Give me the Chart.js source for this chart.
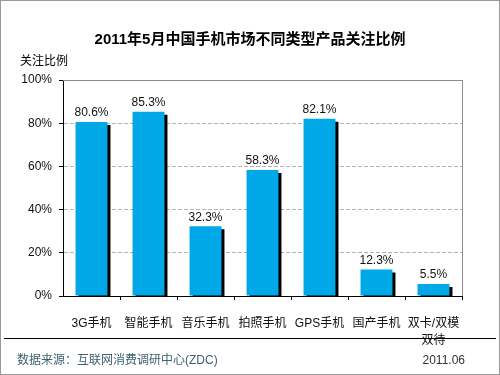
<!DOCTYPE html>
<html>
<head>
<meta charset="utf-8">
<script src="https://cdn.jsdelivr.net/npm/chart.js@4/dist/chart.umd.min.js"></script>
<style>
  html, body { margin: 0; padding: 0; background: #fff; }
  canvas { display: block; }
</style>
</head>
<body>
<canvas id="zdcChart" width="500" height="375"></canvas>
<script>
// ----- Data -----
const categories = ["3G手机", "智能手机", "音乐手机", "拍照手机", "GPS手机", "国产手机", ["双卡/双模", "双待"]];
const shares = [80.6, 85.3, 32.3, 58.3, 82.1, 12.3, 5.5];
const yTicks = [0, 20, 40, 60, 80, 100];

const TITLE = "2011年5月中国手机市场不同类型产品关注比例";
const Y_TITLE = "关注比例";
const SOURCE = "数据来源：互联网消费调研中心(ZDC)";
const DATE = "2011.06";

const FONT = '"Liberation Sans", "Noto Sans CJK SC", sans-serif';

// ----- Plugins -----
// black drop shadow on the right / bottom of each bar
const barShadow = {
  id: "barShadow",
  beforeDatasetDraw(chart) {
    const c = chart.ctx;
    c.save();
    c.shadowColor = "#000";
    c.shadowOffsetX = 3;
    c.shadowOffsetY = 3;
    c.shadowBlur = 0;
  },
  afterDatasetDraw(chart) {
    chart.ctx.restore();
  }
};

const decorations = {
  id: "decorations",
  beforeDraw(chart) {
    const c = chart.ctx;
    c.save();
    c.fillStyle = "#fff";
    c.fillRect(0, 0, chart.width, chart.height);
    c.restore();
  },
  afterDraw(chart) {
    const c = chart.ctx;
    const area = chart.chartArea;
    c.save();

    // plot frame (top + right)
    c.strokeStyle = "#8c8c8c";
    c.lineWidth = 1;
    c.beginPath();
    c.moveTo(area.left, area.top + 0.5);
    c.lineTo(area.right + 0.5, area.top + 0.5);
    c.lineTo(area.right + 0.5, area.bottom);
    c.stroke();

    // category boundary ticks under the axis
    c.strokeStyle = "#000";
    c.beginPath();
    const step = (area.right - area.left) / categories.length;
    for (let i = 1; i <= categories.length; i++) {
      const px = Math.round(area.left + i * step) + 0.5;
      c.moveTo(px, area.bottom);
      c.lineTo(px, area.bottom + 4);
    }
    c.stroke();

    // value labels
    c.fillStyle = "#111";
    c.font = "12px " + FONT;
    c.textAlign = "center";
    c.textBaseline = "middle";
    chart.getDatasetMeta(0).data.forEach((bar, i) => {
      c.fillText(shares[i].toFixed(1) + "%", bar.x, bar.y - 9);
    });

    // title
    c.font = "bold 15px " + FONT;
    c.fillStyle = "#000";
    c.fillText(TITLE, 250, 40);

    // y axis name
    c.font = "12px " + FONT;
    c.textAlign = "left";
    c.fillText(Y_TITLE, 20, 62);

    // separator line
    c.strokeStyle = "#000";
    c.beginPath();
    c.moveTo(4, 338.5);
    c.lineTo(496, 338.5);
    c.stroke();

    // footer
    c.fillStyle = "#3b6270";
    c.fillText(SOURCE, 17, 361);
    c.fillStyle = "#333";
    c.textAlign = "right";
    c.fillText(DATE, 465, 361);

    // outer frame
    c.strokeStyle = "#999";
    c.strokeRect(0.5, 0.5, chart.width - 1, chart.height - 1);
    c.restore();
  }
};

// ----- Chart -----
const ctx = document.getElementById("zdcChart").getContext("2d");
new Chart(ctx, {
  type: "bar",
  data: {
    labels: categories,
    datasets: [{
      data: shares,
      backgroundColor: "#00a8e8",
      borderWidth: 0,
      barPercentage: 0.56,
      categoryPercentage: 1
    }]
  },
  options: {
    responsive: false,
    animation: false,
    layout: { padding: { left: 0, right: 38, top: 80, bottom: 0 } },
    plugins: {
      legend: { display: false },
      tooltip: { enabled: false }
    },
    scales: {
      x: {
        grid: { display: false },
        border: { color: "#000", width: 1 },
        ticks: {
          color: "#111",
          padding: 11,
          maxRotation: 0,
          autoSkip: false,
          font: { family: FONT, size: 12, lineHeight: 1.4 }
        },
        afterFit(scale) { scale.height = 79; }
      },
      y: {
        min: 0,
        max: 100,
        afterBuildTicks(scale) { scale.ticks = yTicks.map(v => ({ value: v })); },
        grid: {
          color: c => (c.tick && (c.tick.value === 0 || c.tick.value === 100)) ? "rgba(0,0,0,0)" : "#b4b4b4",
          tickColor: "#000",
          tickLength: 4,
          drawTicks: true
        },
        border: { color: "#000", width: 1, dash: [4, 2] },
        ticks: {
          color: "#111",
          padding: 7,
          font: { family: FONT, size: 12 },
          callback: v => v + "%"
        },
        afterFit(scale) { scale.width = 63; }
      }
    }
  },
  plugins: [barShadow, decorations]
});
</script>
</body>
</html>
